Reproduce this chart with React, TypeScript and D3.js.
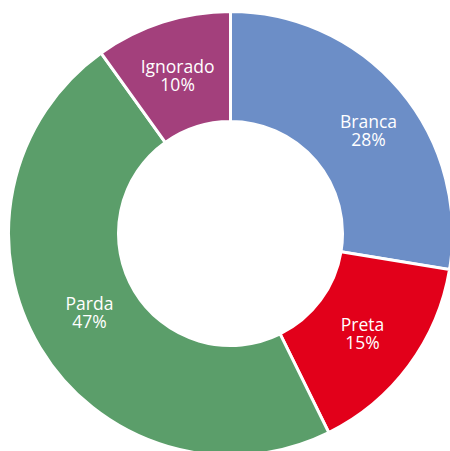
import React from "react";
import * as d3 from "d3";

const categories = ["Branca", "Preta", "Parda", "Ignorado"];
const values = [27.6, 15.1, 47.4, 9.9];
const colors = ["#6C8EC7", "#E2001A", "#5B9E6A", "#A3407C"];
// small nudges to mimic the original label placement (layout only)
const labelNudge: [number, number][] = [[10, 5.5], [-3, 0], [3, -7.5], [-1.5, 2]];

export default function App() {
  const width = 450;
  const height = 451;
  const cx = 230.5;
  const cy = 233.5;
  const outerR = 222;
  const innerR = 112;
  const data = categories.map((c, i) => ({ name: c, value: values[i], color: colors[i] }));
  const pie = d3.pie<any>().value((d) => d.value).sort(null);
  const arcs = pie(data);
  const arc = d3.arc<any>().innerRadius(innerR).outerRadius(outerR);
  const labelArc = d3.arc<any>().innerRadius(168).outerRadius(168);
  const total = d3.sum(values);
  return (
    <svg width={width} height={height} style={{ position: "absolute", left: 0, top: 0 }}>
      <g transform={`translate(${cx},${cy})`}>
        {arcs.map((a, i) => (
          <path key={i} d={arc(a) as string} fill={a.data.color} stroke="#fff" strokeWidth={3} />
        ))}
        {arcs.map((a, i) => {
          const [x0, y0] = labelArc.centroid(a);
          const x = x0 + labelNudge[i][0];
          const y = y0 + labelNudge[i][1];
          return (
            <text key={"t" + i} x={x} y={y - 2.5} textAnchor="middle" fill="#fff" fontFamily="'Open Sans', sans-serif" fontSize={17.5}>
              <tspan x={x} dy={0}>{a.data.name}</tspan>
              <tspan x={x} dy={18}>{Math.round((a.data.value / total) * 100)}%</tspan>
            </text>
          );
        })}
      </g>
    </svg>
  );
}
